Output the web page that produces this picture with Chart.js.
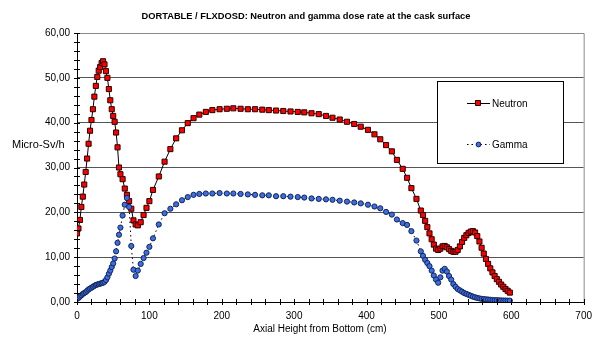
<!DOCTYPE html>
<html>
<head>
<meta charset="utf-8">
<script src="https://cdn.jsdelivr.net/npm/chart.js@4.4.0/dist/chart.umd.min.js"></script>
<style>
  html, body { margin: 0; padding: 0; background: #fff; }
  #wrap { width: 600px; height: 338px; }
</style>
</head>
<body>
<div id="wrap"><canvas id="grafico" width="600" height="338"></canvas></div>
<script>
// axial height (cm) - same mesh for both curves
const heights = [
  0, 2, 4, 6, 8, 10, 12, 14, 16, 18, 20, 22, 24, 26, 28, 30, 32, 34, 36, 38, 40, 42, 44, 46, 48, 50,
  52, 54, 56, 58, 60, 63, 66, 69, 72, 75, 78, 81, 84, 88, 92, 96, 100,
  105, 113, 121, 129, 137, 145, 153, 161, 169, 178, 187, 197, 207, 216, 226, 236, 246, 256, 265, 275,
  285, 295, 305, 314, 324, 334, 344, 353, 363, 373, 383, 392, 402, 411, 419, 427, 435, 442, 450, 456, 462, 469,
  475, 478, 481, 484, 487, 490, 493, 496, 499, 502, 505, 508, 511, 514, 517, 520, 523, 526, 529, 532, 535,
  538, 541, 544, 547, 550, 553, 556, 559, 562, 565, 568, 571, 574, 577, 580, 583, 586, 589, 592, 595, 598
];

const neutron = [
  15.3, 16.4, 18.3, 21.2, 23.5, 26.2, 29.0, 32.0, 35.3, 38.2, 40.6, 43.0, 45.8, 48.2, 50.2, 51.6, 52.4, 53.3,
  53.7, 53.0, 51.5, 50.0, 47.5, 45.0, 43.0, 41.5, 40.2, 37.8, 34.5, 30.0, 28.5, 27.4, 25.3, 23.9, 22.5, 20.8,
  18.2, 17.3, 17.1, 17.8, 19.4, 21.0, 22.5,
  25.0, 28.0, 31.3, 34.1, 36.5, 38.3, 39.9, 41.0, 41.8, 42.4, 42.8, 43.0, 43.1, 43.2, 43.1, 43.0, 43.0, 42.9,
  42.8, 42.7, 42.6, 42.5, 42.4, 42.3, 42.1, 41.9, 41.5, 41.1, 40.7, 40.2, 39.7, 39.1, 38.4, 37.4, 36.3, 35.0,
  33.6, 31.7, 29.7, 27.7, 25.4, 23.0,
  20.4, 19.4, 18.1, 16.7, 15.3, 14.0, 12.8, 11.9, 11.6, 11.9, 12.4, 12.5, 12.2, 11.8, 11.4, 11.2, 11.2, 11.6,
  12.4, 13.4, 14.3, 14.9, 15.4, 15.7, 15.8, 15.5, 14.7, 13.5, 12.1, 10.8, 9.6, 8.5, 7.5, 6.6, 5.8, 5.1,
  4.5, 3.9, 3.4, 2.9, 2.5, 2.1
];

const gamma = [
  0.7, 0.9, 1.2, 1.5, 1.8, 2.0, 2.2, 2.5, 2.8, 3.0, 3.2, 3.4, 3.6, 3.8, 3.9, 4.0, 4.1, 4.2, 4.3, 4.5, 4.9,
  5.5, 6.3, 7.0, 7.8, 8.6, 9.7, 11.3, 13.2, 15.0, 16.6, 19.3, 21.7, 23.2, 21.2, 12.5, 7.2, 5.8, 7.0, 8.5,
  9.8, 11.0, 12.3,
  14.2, 17.3, 19.8, 20.8, 21.8, 22.7, 23.4, 23.9, 24.1, 24.2, 24.2, 24.3, 24.2, 24.2, 24.1, 24.0, 23.9, 23.8,
  23.8, 23.6, 23.6, 23.5, 23.4, 23.3, 23.1, 23.0, 22.9, 22.8, 22.6, 22.4, 22.2, 22.0, 21.7, 21.3, 20.9, 20.1,
  19.5, 18.4, 17.6, 17.2, 15.8, 13.7,
  11.3, 10.3, 9.4, 8.7, 8.0, 7.0, 5.9, 5.0, 4.3, 5.5, 7.0, 7.4, 6.8, 5.8, 5.0, 4.0, 3.4, 2.9, 2.6, 2.3,
  2.0, 1.8, 1.6, 1.4, 1.2, 1.05, 0.9, 0.8, 0.7, 0.65, 0.6, 0.55, 0.5, 0.45, 0.42, 0.4, 0.38, 0.35, 0.33,
  0.32, 0.3, 0.3
];

const seriesNames = ['Neutron', 'Gamma'];
const yRange = [0, 60];
const xRange = [0, 700];
const chartTitle = 'DORTABLE / FLXDOSD: Neutron and gamma dose rate at the cask surface';
const yTitle = 'Micro-Sv/h';
const xTitle = 'Axial Height from Bottom (cm)';

const FONT = "'Liberation Sans', Arial, sans-serif";
Chart.defaults.font.family = FONT;
Chart.defaults.font.size = 10;
Chart.defaults.color = '#000';

const toPoints = vals => vals.map((v, i) => ({ x: heights[i], y: v }));

// titles, frame, crossing tick marks and the boxed legend
const decor = {
  id: 'decor',
  afterDraw(chart) {
    const { ctx, chartArea: a, scales: { x, y } } = chart;
    ctx.save();

    ctx.strokeStyle = '#8a8a8a';
    ctx.lineWidth = 1;
    ctx.beginPath();
    ctx.moveTo(a.left, a.top + 0.5);
    ctx.lineTo(a.right + 0.5, a.top + 0.5);
    ctx.lineTo(a.right + 0.5, a.bottom);
    ctx.stroke();

    ctx.strokeStyle = '#000';
    ctx.beginPath();
    y.ticks.forEach(t => {
      const py = Math.round(y.getPixelForValue(t.value)) + 0.5;
      ctx.moveTo(a.left - 3, py); ctx.lineTo(a.left + 3, py);
    });
    x.ticks.forEach(t => {
      const px = Math.round(x.getPixelForValue(t.value)) + 0.5;
      ctx.moveTo(px, a.bottom - 3); ctx.lineTo(px, a.bottom + 3);
    });
    ctx.stroke();

    ctx.fillStyle = '#000';
    ctx.textBaseline = 'middle';
    ctx.textAlign = 'center';
    ctx.font = 'bold 9.3px ' + FONT;
    ctx.fillText(chartTitle, 306, 16);
    ctx.font = '10px ' + FONT;
    ctx.fillText(xTitle, 320, 329);
    ctx.textAlign = 'left';
    ctx.font = '11px ' + FONT;
    ctx.fillText(yTitle, 12, 145);

    // legend
    ctx.fillStyle = '#fff';
    ctx.fillRect(437.5, 81.5, 126, 82);
    ctx.strokeStyle = '#000';
    ctx.strokeRect(437.5, 81.5, 126, 82);
    const rows = [103, 144];
    chart.data.datasets.forEach((ds, i) => {
      const ry = rows[i];
      ctx.strokeStyle = '#000';
      ctx.setLineDash(ds.borderDash || []);
      ctx.beginPath();
      ctx.moveTo(467, ry + 0.5); ctx.lineTo(490, ry + 0.5);
      ctx.stroke();
      ctx.setLineDash([]);
      ctx.fillStyle = ds.pointBackgroundColor;
      ctx.strokeStyle = ds.pointBorderColor;
      ctx.beginPath();
      if (ds.pointStyle === 'rect') ctx.rect(475.5, ry - 2.5, 5, 5);
      else ctx.arc(478.5, ry + 0.5, 2.4, 0, Math.PI * 2);
      ctx.fill(); ctx.stroke();
      ctx.fillStyle = '#000';
      ctx.font = '10px ' + FONT;
      ctx.fillText(ds.label, 492, ry + 1);
    });
    ctx.restore();
  }
};

new Chart(document.getElementById('grafico'), {
  type: 'line',
  data: {
    datasets: [
      {
        label: seriesNames[0],
        data: toPoints(neutron),
        borderColor: '#000',
        borderWidth: 1,
        pointStyle: 'rect',
        pointRadius: 3.6,
        pointBackgroundColor: '#ff0000',
        pointBorderColor: '#2a0000',
        pointBorderWidth: 1,
        tension: 0,
        order: 1
      },
      {
        label: seriesNames[1],
        data: toPoints(gamma),
        borderColor: '#000',
        borderWidth: 1,
        borderDash: [1.5, 3],
        pointStyle: 'circle',
        pointRadius: 2.6,
        pointBackgroundColor: '#3b6fe0',
        pointBorderColor: '#14235a',
        pointBorderWidth: 1,
        tension: 0,
        order: 0
      }
    ]
  },
  options: {
    responsive: false,
    animation: false,
    layout: { padding: { top: 33, right: 12, bottom: 0, left: 0 } },
    plugins: { legend: { display: false }, tooltip: { enabled: false }, title: { display: false } },
    scales: {
      x: {
        type: 'linear',
        min: xRange[0],
        max: xRange[1],
        afterFit: s => { s.height = 36; },
        ticks: {
          stepSize: 20,
          autoSkip: false,
          maxRotation: 0,
          padding: 8,
          callback: v => (v % 100 === 0 ? String(v) : '')
        },
        grid: { display: false, drawTicks: false },
        border: { display: true, color: '#000', width: 1 }
      },
      y: {
        min: yRange[0],
        max: yRange[1],
        afterFit: s => { s.width = 77; },
        ticks: {
          stepSize: 2,
          autoSkip: false,
          padding: 7,
          callback: v => (v % 10 === 0 ? v.toFixed(2).replace('.', ',') : '')
        },
        grid: {
          drawTicks: false,
          color: c => (c.tick && c.tick.value % 10 === 0 ? '#555' : 'rgba(0,0,0,0)'),
          lineWidth: 1
        },
        border: { display: true, color: '#000', width: 1 }
      }
    }
  },
  plugins: [decor]
});
</script>
</body>
</html>
